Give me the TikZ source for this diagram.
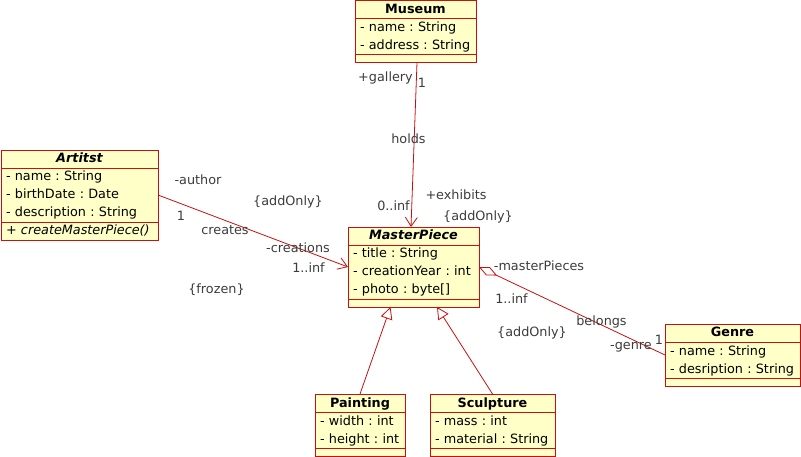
\documentclass[tikz,border=0pt]{standalone}
\usepackage{fontspec}
\setmainfont{DejaVu Sans}[ItalicFont={DejaVu Sans Oblique}, BoldItalicFont={DejaVu Sans Bold Oblique}]
\usetikzlibrary{arrows.meta,positioning}
\definecolor{umlred}{RGB}{200,16,16}
\definecolor{umlfill}{RGB}{255,255,200}
\definecolor{labelgray}{RGB}{60,60,60}
\newcommand{\row}[1]{\mbox{\rule[-5pt]{0pt}{18pt}#1}}

\begin{document}
\begin{tikzpicture}[x=1pt, y=-1pt,
	box/.style={draw=umlred, line width=0.8pt, fill=umlfill, inner xsep=5pt, inner ysep=0pt, outer sep=0pt, font=\fontsize{12.8}{18}\selectfont\frenchspacing},
	clsname/.style={box, minimum width=#1, font=\fontsize{12.8}{18}\selectfont\bfseries},
	clsattr/.style={box, text width=#1, align=left},
	clsspare/.style={box, minimum width=#1, minimum height=8pt},
	lbl/.style={text=labelgray, inner sep=0pt, font=\fontsize{12.8}{18}\selectfont},
	assoc/.style={draw=umlred, line width=0.8pt, -{Straight Barb[length=9pt,width=12pt]}},
	inherit/.style={draw=umlred, line width=0.8pt, -{Triangle[open, fill=white, length=12pt, width=12pt]}},
	aggreg/.style={draw=umlred, line width=0.8pt, {Diamond[open, fill=white, length=20pt, width=9pt]}-}
	]
	\useasboundingbox (0,0) rectangle (801,457);

	% Les classes
	\node[clsname=121] (Museum) at (415.5,9.5) {\row{Museum}};
	\node[clsattr=111pt, below=0pt of Museum] (Museum-a) {\row{- name : String}\\\row{- address : String}};
	\node[clsspare=121, below=0pt of Museum-a] (Museum-o) {};

	\node[clsname=157] (Artitst) at (79.5,159) {\row{\itshape Artitst}};
	\node[clsattr=147pt, below=0pt of Artitst] (Artitst-a) {\row{- name : String}\\\row{- birthDate : Date}\\\row{- description : String}};
	\node[clsattr=147pt, below=0pt of Artitst-a] (Artitst-o) {\row{\itshape + createMasterPiece()}};

	\node[clsname=131] (MP) at (413.5,236) {\row{\itshape MasterPiece}};
	\node[clsattr=121pt, below=0pt of MP] (MP-a) {\row{- title : String}\\\row{- creationYear : int}\\\row{- photo : byte[]}};
	\node[clsspare=131, below=0pt of MP-a] (MP-o) {};

	\node[clsname=135] (Genre) at (732.5,333) {\row{Genre}};
	\node[clsattr=125pt, below=0pt of Genre] (Genre-a) {\row{- name : String}\\\row{- desription : String}};
	\node[clsspare=135, below=0pt of Genre-a] (Genre-o) {};

	\node[clsname=90] (Painting) at (360,403) {\row{Painting}};
	\node[clsattr=80pt, below=0pt of Painting] (Painting-a) {\row{- width : int}\\\row{- height : int}};
	\node[clsspare=90, below=0pt of Painting-a] (Painting-o) {};

	\node[clsname=125] (Sculpture) at (492.5,403) {\row{Sculpture}};
	\node[clsattr=115pt, below=0pt of Sculpture] (Sculpture-a) {\row{- mass : int}\\\row{- material : String}};
	\node[clsspare=125, below=0pt of Sculpture-a] (Sculpture-o) {};

	% Les associations
	\draw[assoc] ([xshift=1.5pt]Museum-o.south) to ([xshift=-2.5pt]MP.north);
	\draw[assoc] (Artitst-a.east) to ([yshift=5pt]MP-a.west);
	\draw[aggreg] ([yshift=5pt]MP-a.east) to ([yshift=5pt]Genre-a.west);
	\draw[inherit] (Painting.north) to ([xshift=-23pt]MP-o.south);
	\draw[inherit] (Sculpture.north) to ([xshift=23.5pt]MP-o.south);

	% Les etiquettes
	\node[lbl] (gallery) at (385.5,78) {+gallery};
	\node[lbl] (gallery-m) at (422,83) {1};
	\node[lbl] (holds) at (408.5,139) {holds};
	\node[lbl] (exhibits-m) at (393.5,206) {0..inf};
	\node[lbl] (exhibits) at (456,195) {+exhibits};
	\node[lbl] (exhibits-c) at (478,217) {\{addOnly\}};

	\node[lbl] (author) at (198,180) {-author};
	\node[lbl] (author-c) at (288,202) {\{addOnly\}};
	\node[lbl] (author-m) at (181,216) {1};
	\node[lbl] (creates) at (225,230) {creates};
	\node[lbl] (creations) at (298,248) {-creations};
	\node[lbl] (creations-m) at (308.5,268) {1..inf};
	\node[lbl] (creations-c) at (216.5,290) {\{frozen\}};

	\node[lbl] (pieces) at (539,266) {-masterPieces};
	\node[lbl] (pieces-m) at (511.5,299) {1..inf};
	\node[lbl] (pieces-c) at (532,333) {\{addOnly\}};
	\node[lbl] (belongs) at (601.5,322) {belongs};
	\node[lbl] (genre) at (631,347) {-genre};
	\node[lbl] (genre-m) at (659,340) {1};
\end{tikzpicture}
\end{document}
